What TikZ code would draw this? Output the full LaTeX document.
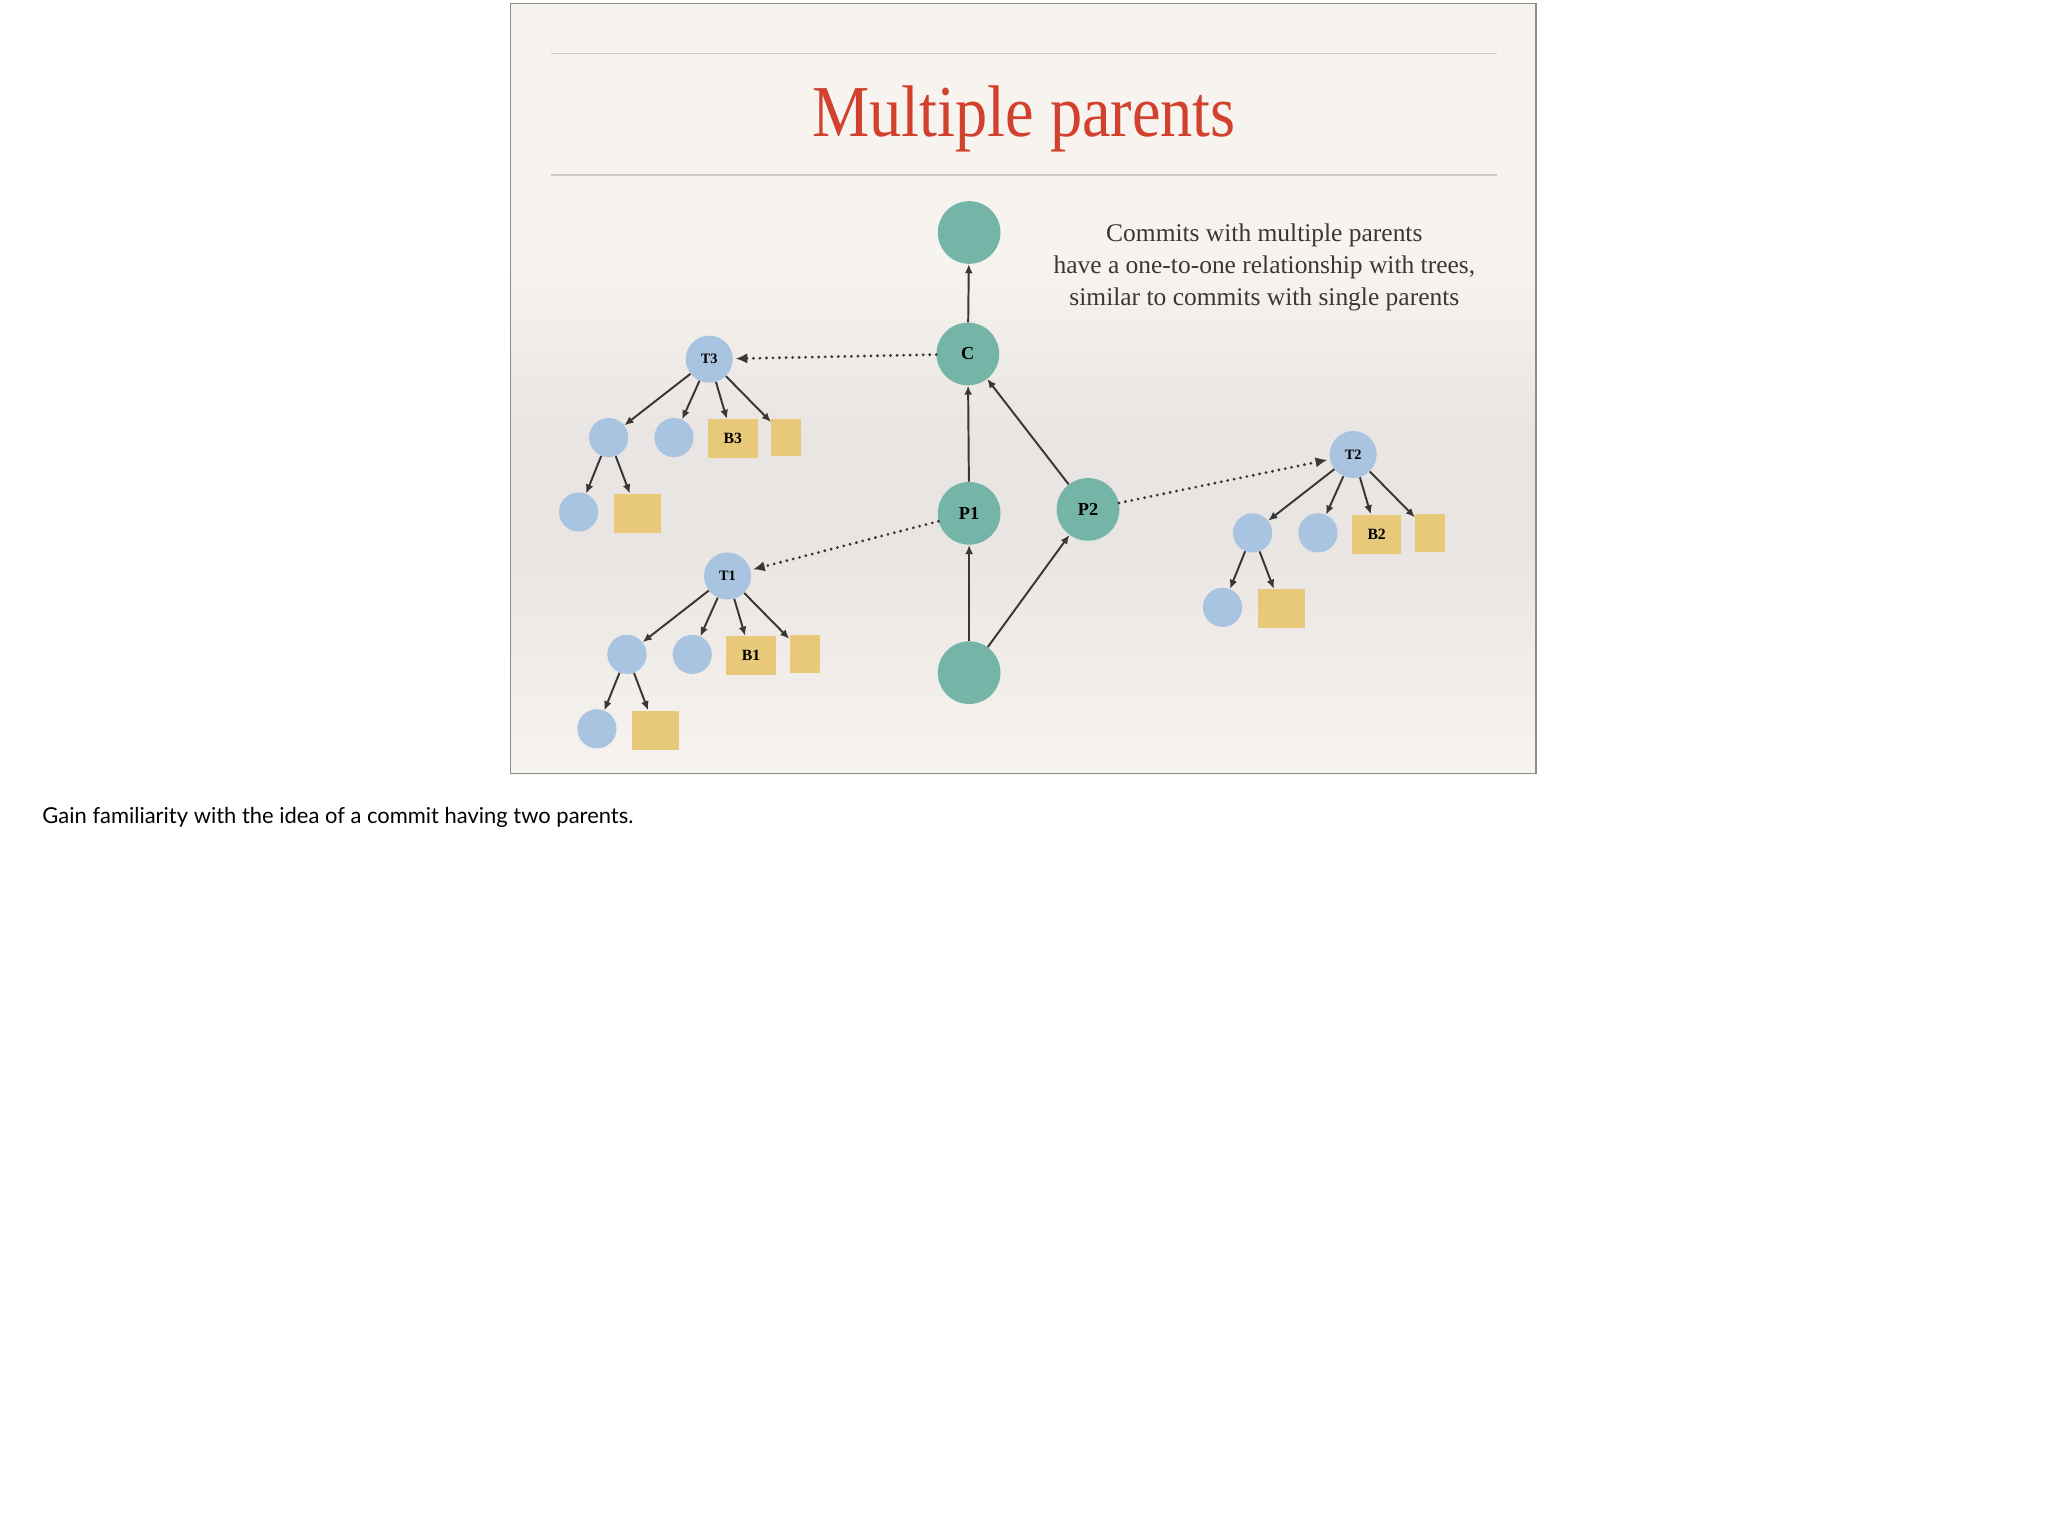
\documentclass[tikz,border=0pt]{standalone}
\usepackage{fontspec}
\setmainfont{Liberation Serif}
\newfontfamily\notefont{Lato}
\usetikzlibrary{arrows.meta,calc}
\definecolor{teal1}{HTML}{74B5A8}
\definecolor{blue1}{HTML}{A9C4E0}
\definecolor{yel1}{HTML}{E8C979}
\definecolor{red1}{HTML}{D2412E}
\definecolor{ink}{HTML}{3A3634}
\definecolor{bgA}{HTML}{F7F4EF}
\definecolor{bgB}{HTML}{E9E5E2}
\tikzset{
 commit/.style={circle,fill=teal1,minimum size=48pt,inner sep=0pt,font=\fontsize{14}{14}\selectfont\bfseries},
 tree/.style={circle,fill=blue1,minimum size=36pt,inner sep=0pt,font=\fontsize{11}{11}\selectfont\bfseries},
 sub/.style={circle,fill=blue1,minimum size=30pt,inner sep=0pt},
 blob/.style={fill=yel1,minimum width=38pt,minimum height=30pt,inner sep=0pt,font=\fontsize{12}{12}\selectfont\bfseries},
 small/.style={fill=yel1,minimum width=23pt,minimum height=29pt,inner sep=0pt},
 big/.style={fill=yel1,minimum width=36pt,minimum height=30pt,inner sep=0pt},
 arr/.style={draw=ink,line width=1.5pt,-{Latex[length=7pt,width=6pt]}},
 dot/.style={draw=ink,line width=2.4pt,line cap=round,dash pattern=on 0pt off 5pt,-{Latex[length=9pt,width=8pt]},shorten >=2pt},
}
\newcommand{\mktree}[4]{%
 \node[tree] (#1) at (#2) {#3};
 \node[sub] (#1a) at ($(#2)+(-77,60)$) {};
 \node[sub] (#1b) at ($(#2)+(-27,60)$) {};
 \node[blob] (#1c) at ($(#2)+(18,61)$) {#4};
 \node[small] (#1d) at ($(#2)+(59,60)$) {};
 \node[sub] (#1e) at ($(#2)+(-100,117)$) {};
 \node[big] (#1f) at ($(#2)+(-55,118)$) {};
 \foreach \t in {a,b,c,d} \draw[arr] (#1) -- (#1\t);
 \draw[arr] (#1a) -- (#1e); \draw[arr] (#1a) -- (#1f);
}
\begin{document}
\begin{tikzpicture}[x=1pt,y=-1pt]
\useasboundingbox (0,0) rectangle (1568,1169);
\fill[white] (0,0) rectangle (1568,1169);
\fill[bgA] (391,3) rectangle (1176,200);
\shade[top color=bgA,bottom color=bgB] (391,199) rectangle (1176,331);
\fill[bgB] (391,330) rectangle (1176,421);
\shade[top color=bgB,bottom color=bgA] (391,420) rectangle (1176,592);
\draw[black!45,line width=0.8pt] (391,3) rectangle (1176,592);
\draw[black!20,line width=0.8pt] (422,41) -- (1146,41) (422,134) -- (1146,134);
\node[text=red1,font=\fontsize{56}{56}\selectfont] (title) at (784,91) {\scalebox{0.88}[1]{Multiple parents}};
\node[text=ink,align=center,font=\fontsize{19.5}{24.5}\selectfont] (cap) at (968,205) {Commits with multiple parents\\have a one-to-one relationship with trees,\\similar to commits with single parents};
\node[commit] (top) at (742,178) {};
\node[commit] (c) at (741,271) {C};
\node[commit] (p1) at (742,393) {P1};
\node[commit] (p2) at (833,390) {P2};
\node[commit] (bot) at (742,515) {};
\draw[arr] (bot) -- (p1); \draw[arr] (bot) -- (p2);
\draw[arr] (p1) -- (c); \draw[arr] (p2) -- (c); \draw[arr] (c) -- (top);
\mktree{t3}{543,275}{T3}{B3}
\mktree{t1}{557,441}{T1}{B1}
\mktree{t2}{1036,348}{T2}{B2}
\draw[dot] (c) -- (t3);
\draw[dot] (p1) -- (t1);
\draw[dot] (p2) -- (t2);
\node[anchor=west,font=\notefont\fontsize{16.8}{16.8}\selectfont] (note) at (29,626) {Gain familiarity with the idea of a commit having two parents.};
\end{tikzpicture}
\end{document}
